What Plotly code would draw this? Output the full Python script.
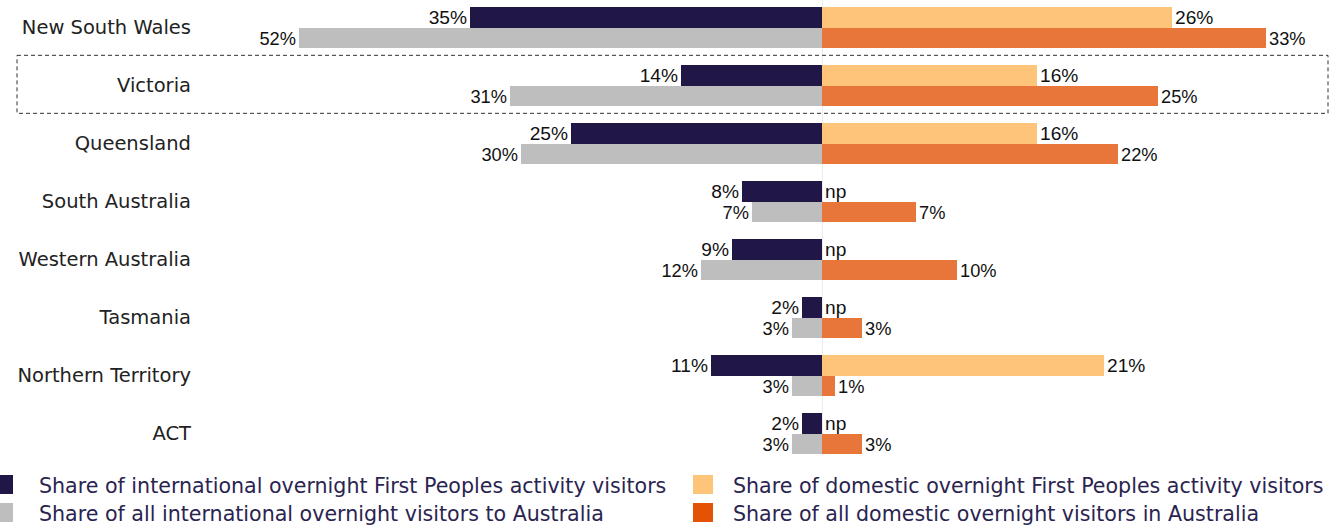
import plotly.graph_objects as go

# ---------------- data ----------------
states = ["New South Wales", "Victoria", "Queensland", "South Australia",
          "Western Australia", "Tasmania", "Northern Territory", "ACT"]
intl_fp = [35, 14, 25, 8, 9, 2, 11, 2]       # international overnight First Peoples activity visitors
intl_all = [52, 31, 30, 7, 12, 3, 3, 3]      # all international overnight visitors
dom_fp = [26, 16, 16, None, None, None, 21, None]  # domestic overnight First Peoples activity visitors (None = np)
dom_all = [33, 25, 22, 7, 10, 3, 1, 3]       # all domestic overnight visitors

legend_names = [
    "Share of international overnight First Peoples activity visitors",
    "Share of all international overnight visitors to Australia",
    "Share of domestic overnight First Peoples activity visitors",
    "Share of all domestic overnight visitors in Australia",
]

# ---------------- style ----------------
W, H = 1339, 525
PLOT_H = 460
NAVY = "#201747"
GREY = "#BEBEBE"
LORANGE = "#FEC57A"
ORANGE = "#E8763A"
ORANGE_LEG = "#E35205"
LBL_FONT = dict(family="Liberation Sans, Arial", size=21, color="#111111")
CAT_FONT = dict(family="DejaVu Sans", size=19.5, color="#222222")
LEG_FONT = dict(family="DejaVu Sans", size=20.6, color="#2a2450")

CENTER_PX = 822
LEFT_START_PX = 200
PX_PER_PCT_L = 10.05
PX_PER_PCT_R = 13.45
PITCH = 58.0
FIRST_CENTER_PX = 27.5
BAR_W = 0.345

ypos = list(range(len(states)))
y_top = -FIRST_CENTER_PX / PITCH
y_bot = y_top + PLOT_H / PITCH

fig = go.Figure()

def pct(v):
    return f"{v}%"

fig.add_trace(go.Bar(
    x=intl_fp, y=ypos, orientation="h", xaxis="x", yaxis="y",
    marker=dict(color=NAVY, line=dict(width=0)), width=BAR_W, offset=-BAR_W,
    text=[pct(v) for v in intl_fp], textposition="outside", textfont=LBL_FONT,
    cliponaxis=False, name=legend_names[0], showlegend=False))
fig.add_trace(go.Bar(
    x=intl_all, y=ypos, orientation="h", xaxis="x", yaxis="y",
    marker=dict(color=GREY, line=dict(width=0)), width=BAR_W, offset=0,
    text=[pct(v) for v in intl_all], textposition="outside", textfont=LBL_FONT,
    cliponaxis=False, name=legend_names[1], showlegend=False))
fig.add_trace(go.Bar(
    x=[v if v is not None else 0 for v in dom_fp], y=ypos, orientation="h",
    xaxis="x2", yaxis="y",
    marker=dict(color=LORANGE, line=dict(width=0)), width=BAR_W, offset=-BAR_W,
    text=[pct(v) if v is not None else "np" for v in dom_fp],
    textposition="outside", textfont=LBL_FONT,
    cliponaxis=False, name=legend_names[2], showlegend=False))
fig.add_trace(go.Bar(
    x=dom_all, y=ypos, orientation="h", xaxis="x2", yaxis="y",
    marker=dict(color=ORANGE, line=dict(width=0)), width=BAR_W, offset=0,
    text=[pct(v) for v in dom_all], textposition="outside", textfont=LBL_FONT,
    cliponaxis=False, name=legend_names[3], showlegend=False))

left_range = (CENTER_PX - LEFT_START_PX) / PX_PER_PCT_L
right_range = (W - CENTER_PX) / PX_PER_PCT_R

fig.update_layout(
    width=W, height=H,
    margin=dict(l=0, r=0, t=0, b=H - PLOT_H, pad=0),
    paper_bgcolor="white", plot_bgcolor="white",
    barmode="overlay", bargap=0,
    xaxis=dict(domain=[LEFT_START_PX / W, CENTER_PX / W], range=[left_range, 0],
               visible=False, fixedrange=True),
    xaxis2=dict(domain=[CENTER_PX / W, 1], range=[0, right_range],
                visible=False, fixedrange=True, anchor="y"),
    yaxis=dict(range=[y_bot, y_top], tickmode="array", tickvals=ypos, ticktext=states,
               showgrid=False, zeroline=False, showline=False, ticks="",
               tickfont=CAT_FONT, automargin=False, anchor="x",
               ticklabelstandoff=8, fixedrange=True),
    showlegend=False,
)

# center divider line
fig.add_shape(type="line", xref="x2", yref="y", x0=0, x1=0, y0=y_top, y1=y_top + 455 / PITCH,
              line=dict(color="#D9D9D9", width=1), layer="below")

# dashed highlight box around Victoria
vic = states.index("Victoria")
fig.add_shape(type="rect", xref="paper", yref="y",
              x0=17 / W, x1=1328 / W, y0=vic - 0.52, y1=vic + 0.48,
              line=dict(color="#333333", width=1, dash="4px,3px"), fillcolor="rgba(0,0,0,0)")

# manual legend
def py(p):
    return 1 - p / PLOT_H

leg_items = [
    (0, 13, 475, 494, NAVY, 37, legend_names[0]),
    (0, 13, 503, 522, GREY, 37, legend_names[1]),
    (693, 713, 475, 494, LORANGE, 731, legend_names[2]),
    (693, 713, 503, 522, ORANGE_LEG, 731, legend_names[3]),
]
for x0, x1, y0, y1, col, tx, name in leg_items:
    fig.add_shape(type="rect", xref="paper", yref="paper",
                  x0=x0 / W, x1=x1 / W, y0=py(y1), y1=py(y0),
                  line=dict(width=0), fillcolor=col)
    fig.add_annotation(xref="paper", yref="paper", x=tx / W, y=py((y0 + y1) / 2 + 1),
                       text=name, showarrow=False, xanchor="left", yanchor="middle",
                       font=LEG_FONT)

fig.write_html("out.html", config={"displayModeBar": False},
               post_script="document.body.style.margin='0';")
